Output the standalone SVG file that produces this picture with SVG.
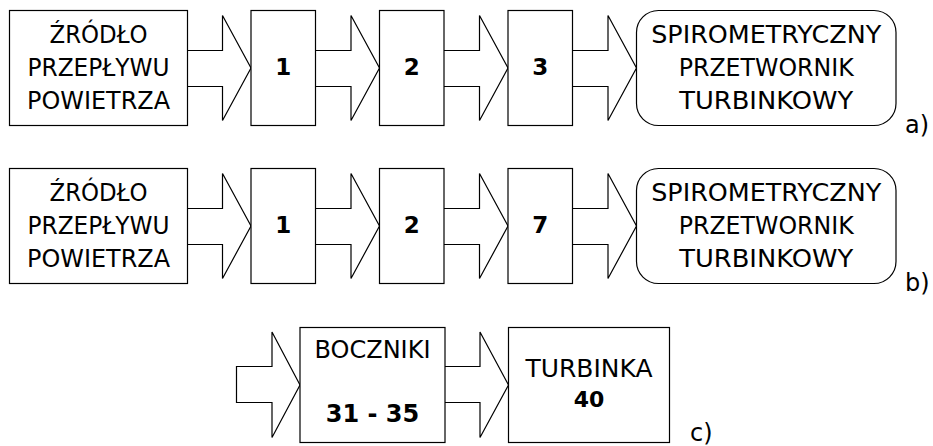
<svg xmlns="http://www.w3.org/2000/svg" width="933" height="446" viewBox="0 0 933 446">
  <style>
    .box { fill: #fff; stroke: #000; stroke-width: 1.2; }
    .arr { fill: #fff; stroke: #000; stroke-width: 1.2; stroke-linejoin: miter; }
    text { font-family: "DejaVu Sans", Verdana, sans-serif; fill: #000; }
    .lbl { font-size: 25px; text-anchor: middle; }
    .num { font-size: 23px; font-weight: bold; text-anchor: middle; }
    .tag { font-size: 24px; }
  </style>
  <rect width="933" height="446" fill="#fff"/>

  <!-- flow arrows (connectors) -->
  <g id="connectors">
    <!-- row a -->
    <polyline class="arr" points="187.5,50.5 222.5,50.5 222.5,15.5 251,68 222.5,120.5 222.5,86.5 187.5,86.5"/>
    <polyline class="arr" points="315.5,50.5 351,50.5 351,15.5 379.5,68 351,120.5 351,86.5 315.5,86.5"/>
    <polyline class="arr" points="444,50.5 479.5,50.5 479.5,15.5 508,68 479.5,120.5 479.5,86.5 444,86.5"/>
    <polyline class="arr" points="572.5,50.5 608,50.5 608,15.5 636.5,68 608,120.5 608,86.5 572.5,86.5"/>
    <!-- row b -->
    <polyline class="arr" points="187.5,208.5 222.5,208.5 222.5,173.5 251,226 222.5,278.5 222.5,244.5 187.5,244.5"/>
    <polyline class="arr" points="315.5,208.5 351,208.5 351,173.5 379.5,226 351,278.5 351,244.5 315.5,244.5"/>
    <polyline class="arr" points="444,208.5 479.5,208.5 479.5,173.5 508,226 479.5,278.5 479.5,244.5 444,244.5"/>
    <polyline class="arr" points="572.5,208.5 608,208.5 608,173.5 636.5,226 608,278.5 608,244.5 572.5,244.5"/>
    <!-- row c -->
    <polygon class="arr" points="236.5,366.5 272,366.5 272,332 300,385 272,437.5 272,402.5 236.5,402.5"/>
    <polyline class="arr" points="445,366.5 480,366.5 480,332 508.5,385 480,437.5 480,402.5 445,402.5"/>
  </g>

  <!-- row a -->
  <g id="a-source">
    <rect class="box" x="9.5" y="10.5" width="178" height="115"/>
    <text class="lbl" x="98.5" y="43" textLength="98" lengthAdjust="spacingAndGlyphs">ŹRÓDŁO</text>
    <text class="lbl" x="98.5" y="76" textLength="142" lengthAdjust="spacingAndGlyphs">PRZEPŁYWU</text>
    <text class="lbl" x="98.5" y="108.5" textLength="143" lengthAdjust="spacingAndGlyphs">POWIETRZA</text>
  </g>
  <g id="a-block1">
    <rect class="box" x="251" y="10.5" width="64.5" height="115"/>
    <text class="num" x="283.2" y="75">1</text>
  </g>
  <g id="a-block2">
    <rect class="box" x="379.5" y="10.5" width="64.5" height="115"/>
    <text class="num" x="411.7" y="75">2</text>
  </g>
  <g id="a-block3">
    <rect class="box" x="508" y="10.5" width="64.5" height="115"/>
    <text class="num" x="540.2" y="75">3</text>
  </g>
  <g id="a-transducer">
    <rect class="box" x="636.5" y="10.5" width="259.5" height="115" rx="22" ry="22"/>
    <text class="lbl" x="766.2" y="43" textLength="230" lengthAdjust="spacingAndGlyphs">SPIROMETRYCZNY</text>
    <text class="lbl" x="766.2" y="76" textLength="175" lengthAdjust="spacingAndGlyphs">PRZETWORNIK</text>
    <text class="lbl" x="766.2" y="108.5" textLength="174" lengthAdjust="spacingAndGlyphs">TURBINKOWY</text>
  </g>
  <text class="tag" x="905" y="133">a)</text>

  <!-- row b -->
  <g id="b-source">
    <rect class="box" x="9.5" y="168.5" width="178" height="115"/>
    <text class="lbl" x="98.5" y="201" textLength="98" lengthAdjust="spacingAndGlyphs">ŹRÓDŁO</text>
    <text class="lbl" x="98.5" y="234" textLength="142" lengthAdjust="spacingAndGlyphs">PRZEPŁYWU</text>
    <text class="lbl" x="98.5" y="266.5" textLength="143" lengthAdjust="spacingAndGlyphs">POWIETRZA</text>
  </g>
  <g id="b-block1">
    <rect class="box" x="251" y="168.5" width="64.5" height="115"/>
    <text class="num" x="283.2" y="233">1</text>
  </g>
  <g id="b-block2">
    <rect class="box" x="379.5" y="168.5" width="64.5" height="115"/>
    <text class="num" x="411.7" y="233">2</text>
  </g>
  <g id="b-block7">
    <rect class="box" x="508" y="168.5" width="64.5" height="115"/>
    <text class="num" x="540.2" y="233">7</text>
  </g>
  <g id="b-transducer">
    <rect class="box" x="636.5" y="168.5" width="259.5" height="115" rx="22" ry="22"/>
    <text class="lbl" x="766.2" y="201" textLength="230" lengthAdjust="spacingAndGlyphs">SPIROMETRYCZNY</text>
    <text class="lbl" x="766.2" y="234" textLength="175" lengthAdjust="spacingAndGlyphs">PRZETWORNIK</text>
    <text class="lbl" x="766.2" y="266.5" textLength="174" lengthAdjust="spacingAndGlyphs">TURBINKOWY</text>
  </g>
  <text class="tag" x="905" y="291">b)</text>

  <!-- row c -->
  <g id="c-bypass">
    <rect class="box" x="300" y="327.5" width="145" height="115"/>
    <text class="lbl" x="372.5" y="358" textLength="116" lengthAdjust="spacingAndGlyphs">BOCZNIKI</text>
    <text class="num" x="372.5" y="421.5" style="font-size:24px">31 - 35</text>
  </g>
  <g id="c-turbine">
    <rect class="box" x="508.5" y="327.5" width="161" height="115"/>
    <text class="lbl" x="589" y="377" textLength="127" lengthAdjust="spacingAndGlyphs">TURBINKA</text>
    <text class="num" x="589" y="407" style="font-size:22px">40</text>
  </g>
  <text class="tag" x="690" y="441">c)</text>
</svg>
